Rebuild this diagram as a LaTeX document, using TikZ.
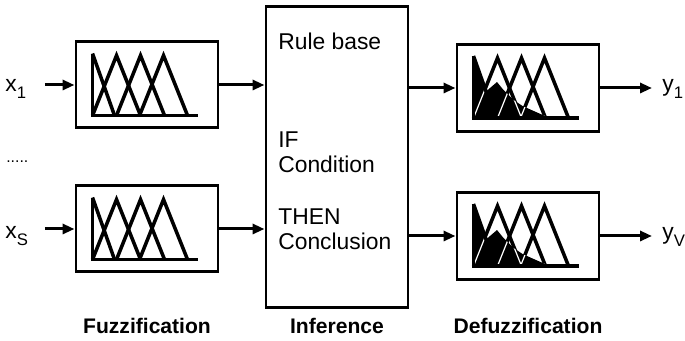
\documentclass[tikz,border=0pt]{standalone}
\usepackage{fontspec}
\setmainfont{Liberation Sans}
\usetikzlibrary{arrows.meta, positioning}
\tikzstyle{block} = [
    rectangle,
    draw=black,
    line width=1.7pt,
    minimum width=2.84cm,
    minimum height=1.72cm
]
\tikzstyle{arrow} = [
    line width=1.7pt,
    -{Triangle[length=0.24cm, width=0.2cm]}
]
\tikzstyle{ruletext} = [
    font=\fontsize{13}{14.5}\selectfont,
    inner sep=0pt,
    anchor=base west,
    align=left
]
\tikzstyle{stage} = [
    font=\fontsize{12}{14}\selectfont\bfseries,
    inner sep=0pt,
    anchor=base
]
\tikzstyle{signal} = [
    font=\fontsize{13}{15}\selectfont,
    inner sep=0pt,
    anchor=base west
]
\tikzstyle{mfline} = [line width=2pt, line join=miter]
\newcommand{\lowsub}[1]{\raisebox{-3.5pt}{\fontsize{9.5}{12}\selectfont #1}}
% membership functions, drawn in pixels from the box corner
\newcommand{\mftriangles}[1]{%
    \foreach \p in {42,66,89} \draw[#1] (\p-24,75) -- (\p,15) -- (\p+24,75);
}
\newcommand{\mfaxes}{%
    \draw[mfline] (18,13) -- (18,75) -- (123,75);
    \draw[mfline] (18,13) -- (40,75);
}
\newcommand{\mfarea}{(18,13) -- (31,48) -- (41.5,39) -- (48,47) -- (58,57) -- (67,63) -- (76,67) -- (94,75) -- (18,75) -- cycle}

\begin{document}
\begin{tikzpicture}
    \useasboundingbox (0,0) rectangle (13.7,6.82);
    % Nodes
    \node[block] (fz1) at (2.94, 5.12) {};
    \node[block] (fz2) at (2.94, 2.24) {};
    \node[block, minimum height=6.02cm] (inf) at (6.74, 3.67) {};
    \node[block, minimum height=1.74cm] (df1) at (10.56, 5.06) {};
    \node[block, minimum height=1.74cm] (df2) at (10.56, 2.10) {};

    % Rule base text
    \node[ruletext] (rule) at (5.56, 5.82) {Rule base};
    \node[ruletext] (cond) at (5.56, 3.36) {IF\\Condition};
    \node[ruletext] (concl) at (5.56, 1.82) {THEN\\Conclusion};

    % Inputs and outputs
    \node[signal] (x1) at (0.1, 4.98) {x\lowsub{1}};
    \node[signal, font=\fontsize{9}{10}\selectfont] (dots) at (0.12, 3.56) {.....};
    \node[signal] (xs) at (0.1, 2.04) {x\lowsub{S}};
    \node[signal] (y1) at (13.24, 4.98) {y\lowsub{1}};
    \node[signal] (yv) at (13.24, 2.02) {y\lowsub{V}};
    \coordinate (in1) at (0.9, 5.12);
    \coordinate (in2) at (0.9, 2.24);
    \coordinate (out1) at (13.04, 5.06);
    \coordinate (out2) at (13.04, 2.10);

    % Stage labels
    \node[stage] (lfz) at (2.94, 0.14) {Fuzzification};
    \node[stage] (linf) at (6.74, 0.14) {Inference};
    \node[stage] (ldf) at (10.56, 0.14) {Defuzzification};

    % Flow arrows
    \draw[arrow] (in1) -- (fz1);
    \draw[arrow] (in2) -- (fz2);
    \draw[arrow] (fz1) -- (fz1 -| inf.west);
    \draw[arrow] (fz2) -- (fz2 -| inf.west);
    \draw[arrow] (inf.east |- df1) -- (df1);
    \draw[arrow] (inf.east |- df2) -- (df2);
    \draw[arrow] (df1) -- (out1);
    \draw[arrow] (df2) -- (out2);

    % Fuzzy sets
    \foreach \b in {fz1, fz2} {
        \begin{scope}[shift={(\b.north west)}, x=0.02cm, y=-0.02cm]
            \mfaxes
            \mftriangles{mfline}
        \end{scope}
    }
    \foreach \b in {df1, df2} {
        \begin{scope}[shift={(\b.north west)}, x=0.02cm, y=-0.02cm]
            \mftriangles{mfline}
            \fill \mfarea;
            \begin{scope}
                \clip \mfarea;
                \mftriangles{white, line width=0.7pt}
            \end{scope}
            \mfaxes
        \end{scope}
    }
\end{tikzpicture}
\end{document}
